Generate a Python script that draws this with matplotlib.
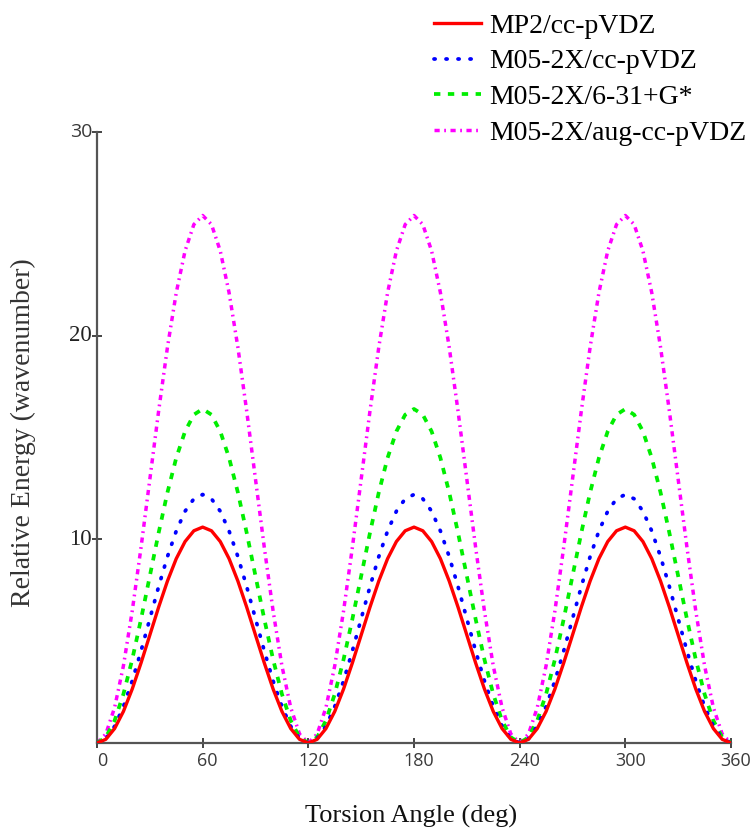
import numpy as np
import matplotlib
matplotlib.use("Agg")
import matplotlib.pyplot as plt
import matplotlib.transforms as mtransforms

# torsion angles (deg), every 5 degrees
angles = np.arange(0, 361, 5)

# relative energies (wavenumber)
mp2_ccpvdz = [
    0, 0.18, 0.71, 1.55, 2.65, 3.93, 5.30, 6.67, 7.95, 9.05, 9.89, 10.42,
    10.60, 10.42, 9.89, 9.05, 7.95, 6.67, 5.30, 3.93, 2.65, 1.55, 0.71, 0.18,
    0, 0.18, 0.71, 1.55, 2.65, 3.93, 5.30, 6.67, 7.95, 9.05, 9.89, 10.42,
    10.60, 10.42, 9.89, 9.05, 7.95, 6.67, 5.30, 3.93, 2.65, 1.55, 0.71, 0.18,
    0, 0.18, 0.71, 1.55, 2.65, 3.93, 5.30, 6.67, 7.95, 9.05, 9.89, 10.42,
    10.60, 10.42, 9.89, 9.05, 7.95, 6.67, 5.30, 3.93, 2.65, 1.55, 0.71, 0.18,
    0,
]
m05_ccpvdz = [
    0, 0.21, 0.82, 1.79, 3.05, 4.52, 6.10, 7.68, 9.15, 10.41, 11.38, 11.99,
    12.20, 11.99, 11.38, 10.41, 9.15, 7.68, 6.10, 4.52, 3.05, 1.79, 0.82, 0.21,
    0, 0.21, 0.82, 1.79, 3.05, 4.52, 6.10, 7.68, 9.15, 10.41, 11.38, 11.99,
    12.20, 11.99, 11.38, 10.41, 9.15, 7.68, 6.10, 4.52, 3.05, 1.79, 0.82, 0.21,
    0, 0.21, 0.82, 1.79, 3.05, 4.52, 6.10, 7.68, 9.15, 10.41, 11.38, 11.99,
    12.20, 11.99, 11.38, 10.41, 9.15, 7.68, 6.10, 4.52, 3.05, 1.79, 0.82, 0.21,
    0,
]
m05_631g = [
    0, 0.28, 1.10, 2.40, 4.10, 6.08, 8.20, 10.32, 12.30, 14.00, 15.30, 16.12,
    16.40, 16.12, 15.30, 14.00, 12.30, 10.32, 8.20, 6.08, 4.10, 2.40, 1.10, 0.28,
    0, 0.28, 1.10, 2.40, 4.10, 6.08, 8.20, 10.32, 12.30, 14.00, 15.30, 16.12,
    16.40, 16.12, 15.30, 14.00, 12.30, 10.32, 8.20, 6.08, 4.10, 2.40, 1.10, 0.28,
    0, 0.28, 1.10, 2.40, 4.10, 6.08, 8.20, 10.32, 12.30, 14.00, 15.30, 16.12,
    16.40, 16.12, 15.30, 14.00, 12.30, 10.32, 8.20, 6.08, 4.10, 2.40, 1.10, 0.28,
    0,
]
m05_augccpvdz = [
    0, 0.44, 1.74, 3.79, 6.48, 9.60, 12.95, 16.30, 19.43, 22.11, 24.16, 25.46,
    25.90, 25.46, 24.16, 22.11, 19.43, 16.30, 12.95, 9.60, 6.48, 3.79, 1.74, 0.44,
    0, 0.44, 1.74, 3.79, 6.48, 9.60, 12.95, 16.30, 19.43, 22.11, 24.16, 25.46,
    25.90, 25.46, 24.16, 22.11, 19.43, 16.30, 12.95, 9.60, 6.48, 3.79, 1.74, 0.44,
    0, 0.44, 1.74, 3.79, 6.48, 9.60, 12.95, 16.30, 19.43, 22.11, 24.16, 25.46,
    25.90, 25.46, 24.16, 22.11, 19.43, 16.30, 12.95, 9.60, 6.48, 3.79, 1.74, 0.44,
    0,
]

labels = ["MP2/cc-pVDZ", "M05-2X/cc-pVDZ", "M05-2X/6-31+G*", "M05-2X/aug-cc-pVDZ"]
x_ticks = [0, 60, 120, 180, 240, 300, 360]
y_ticks = [10, 20, 30]

serif = "Liberation Serif"
sans = "Open Sans"

fig = plt.figure(figsize=(7.56, 8.32), dpi=100)
ax = fig.add_axes([97 / 756, 89 / 832, 634 / 756, 611 / 832])

ax.plot(angles, mp2_ccpvdz, color="#ff0000", lw=2.4, label=labels[0], zorder=5)
ax.plot(angles, m05_ccpvdz, color="#0000ff", lw=2.7, linestyle=(0, (0.3, 2.9)),
        dash_capstyle="round", label=labels[1], zorder=4)
ax.plot(angles, m05_631g, color="#00ee00", lw=2.7, linestyle=(0, (1.7, 2.0)),
        label=labels[2], zorder=3)
ax.plot(angles, m05_augccpvdz, color="#ff00ff", lw=2.5,
        linestyle=(0, (1.5, 1.3, 0.5, 1.3)), label=labels[3], zorder=2)

ax.set_xlim(0, 360)
ax.set_ylim(0, 30)
ax.set_xticks(x_ticks)
ax.set_yticks(y_ticks)
ax.set_xticklabels([str(v) for v in x_ticks], fontfamily=sans, fontsize=13, color="#3a3a3a")
ax.set_yticklabels([])

for spine in ["top", "right"]:
    ax.spines[spine].set_visible(False)
for spine in ["left", "bottom"]:
    ax.spines[spine].set_color("#555555")
    ax.spines[spine].set_linewidth(1.6)

ax.tick_params(axis="both", direction="inout", length=7, width=1.4, color="#444444")
ax.tick_params(axis="x", pad=3)

offset = mtransforms.ScaledTranslation(5 / 100, 0, fig.dpi_scale_trans)
for lab in ax.get_xticklabels():
    lab.set_transform(lab.get_transform() + offset)

# y tick labels: top one in sans, the others in serif (as in the original)
ytrans = ax.get_yaxis_transform()
for v in y_ticks:
    if v == 30:
        ax.text(-0.007, v, str(v), transform=ytrans, ha="right", va="center",
                fontfamily=sans, fontsize=14, color="#3a3a3a")
    else:
        ax.text(-0.008, v, str(v), transform=ytrans, ha="right", va="center",
                fontfamily=serif, fontsize=16.5, color="#222222")

fig.text(411 / 756, (832 - 823) / 832, "Torsion Angle (deg)", fontfamily=serif,
         fontsize=19, ha="center", va="baseline", color="#111111")
fig.text(23 / 756, (832 - 433) / 832, "Relative Energy (wavenumber)", fontfamily=serif,
         fontsize=20, ha="center", va="center", rotation=90, color="#333333")

leg = fig.legend(loc="upper left", bbox_to_anchor=(423 / 756, 1 - 2 / 832), frameon=False,
                 prop={"family": serif, "size": 20}, handlelength=1.7, handletextpad=0.3,
                 labelspacing=0.37, borderaxespad=0)

fig.savefig("out.png", dpi=100, facecolor="white")
